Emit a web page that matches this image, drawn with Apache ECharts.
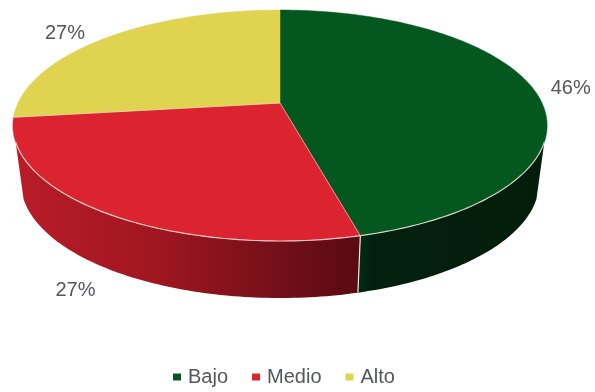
<!DOCTYPE html>
<html>
<head>
<meta charset="utf-8">
<style>html,body{margin:0;padding:0;background:#fff}#chart{width:595px;height:392px}</style>
<script src="https://cdn.jsdelivr.net/npm/echarts@6/dist/echarts.min.js"></script>
</head>
<body>
<div id="chart"></div>
<script>
// Risk levels and their share of the total
var categories = ['Bajo', 'Medio', 'Alto'];
var shares = [46, 27, 27];
var topColors = ['#04581f', '#dc2430', '#dfd34f'];
var total = shares.reduce(function (a, b) { return a + b; }, 0);

// Perspective disc: centre, half-axes, foreshortening and wall depth
var CX = 280, CY = 103, AX = 262, BY = 111.1, Q = 0.195;
var DEPTH = 57, BOTTOM_SCALE = 0.97;
// Range of angles (degrees clockwise from the top) where the wall is visible
var FRONT_FROM = 109.2, FRONT_TO = 250.8;
var labelOffsets = [[37, -1], [-29, 78], [-41, -4]];

function rim(deg) {
  var t = deg * Math.PI / 180, u = Math.sin(t), v = -Math.cos(t), w = 1 - Q * v;
  return [CX + AX * u / w, CY + BY * v / w];
}
function lower(p) {
  return [CX + (p[0] - CX) * BOTTOM_SCALE, p[1] + DEPTH];
}
function arc(a, b) {
  var pts = [], n = Math.max(2, Math.ceil(Math.abs(b - a)));
  for (var i = 0; i <= n; i++) pts.push(rim(a + (b - a) * i / n));
  return pts;
}
function wallFill(index) {
  if (index === 0) {
    return new echarts.graphic.LinearGradient(360, 0, 545, 0, [
      { offset: 0, color: '#032a14' }, { offset: 0.06, color: '#03200e' }, { offset: 1, color: '#031d0a' }
    ], true);
  }
  return new echarts.graphic.LinearGradient(20, 0, 360, 0, [
    { offset: 0, color: '#b81c28' }, { offset: 0.4, color: '#a01620' },
    { offset: 0.75, color: '#741019' }, { offset: 1, color: '#5a0912' }
  ], true);
}

function sliceRenderer(index) {
  return function (params, api) {
    var value = api.value(0);
    var before = shares.slice(0, index).reduce(function (a, b) { return a + b; }, 0);
    var a0 = before / total * 360, a1 = (before + value) / total * 360;
    var children = [];

    // Side wall of the slice, only on the part facing the viewer
    var wa = Math.max(a0, FRONT_FROM), wb = Math.min(a1, FRONT_TO);
    if (wb > wa) {
      var upper = arc(wa, wb);
      var wall = upper.concat(upper.map(lower).reverse());
      children.push({ type: 'polygon', shape: { points: wall }, style: { fill: wallFill(index) } });
    }

    // Top face
    var edge = arc(a0, a1);
    children.push({
      type: 'polygon',
      shape: { points: [[CX, CY]].concat(edge) },
      style: { fill: topColors[index], stroke: topColors[index], lineWidth: 0.5 }
    });

    // Thin highlights along the front rim and the slice borders
    if (wb > wa) {
      children.push({
        type: 'polyline', shape: { points: arc(wa, wb) },
        style: { fill: 'none', stroke: '#f3e6e0', lineWidth: 1.2, opacity: 0.85 }
      });
    }
    if (index > 0) {
      children.push({
        type: 'polyline', shape: { points: [rim(a0), [CX, CY]] },
        style: { fill: 'none', stroke: '#f3d8d0', lineWidth: 0.8, opacity: 0.75 }
      });
    }
    if (a0 > FRONT_FROM && a0 < FRONT_TO) {
      var p = rim(a0);
      children.push({
        type: 'line', shape: { x1: p[0], y1: p[1], x2: lower(p)[0], y2: lower(p)[1] },
        style: { stroke: '#ece6e2', lineWidth: 1.2 }
      });
    }

    // Percentage label
    var mid = rim((a0 + a1) / 2), off = labelOffsets[index];
    children.push({
      type: 'text',
      x: mid[0] + off[0], y: mid[1] + off[1],
      style: {
        text: Math.round(value / total * 100) + '%',
        fill: '#55565c', fontSize: 20, fontFamily: 'Liberation Sans',
        align: 'center', verticalAlign: 'middle'
      }
    });
    return { type: 'group', children: children };
  };
}

var chart = echarts.init(document.getElementById('chart'), null, { renderer: 'canvas' });
chart.setOption({
  animation: false,
  color: topColors,
  legend: {
    data: categories,
    left: 173, top: 367, padding: 0,
    icon: 'rect', itemWidth: 8, itemHeight: 7, itemGap: 24,
    selectedMode: false,
    textStyle: { color: '#55565c', fontSize: 20, fontFamily: 'Liberation Sans', padding: [0, 0, 0, 2] }
  },
  series: categories.map(function (name, i) {
    return {
      type: 'custom', name: name, coordinateSystem: 'none', silent: true,
      itemStyle: { color: topColors[i] },
      data: [[shares[i]]],
      renderItem: sliceRenderer(i)
    };
  })
});
</script>
</body>
</html>
